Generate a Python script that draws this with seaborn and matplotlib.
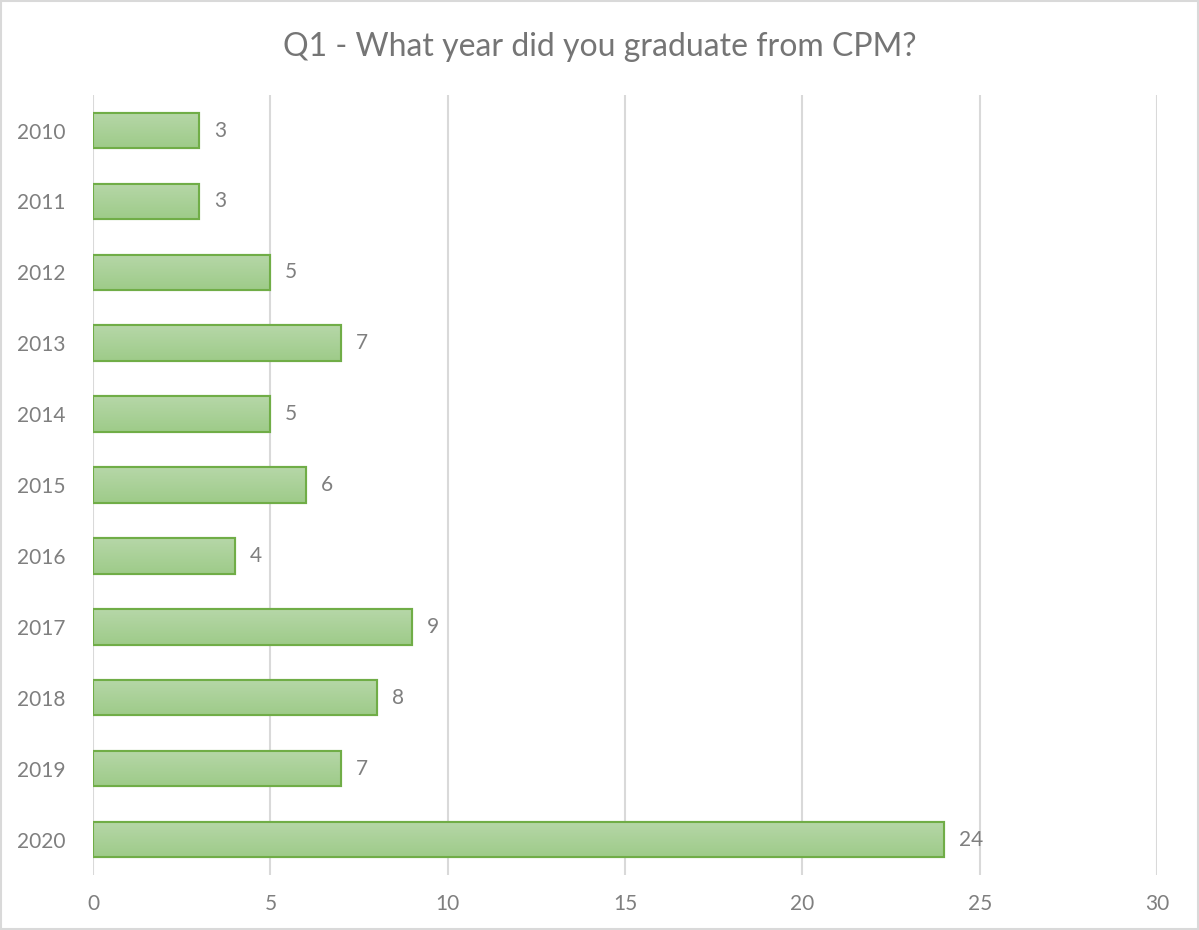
import numpy as np
import pandas as pd
import seaborn as sns
import matplotlib.pyplot as plt
from matplotlib.patches import Rectangle

years = ["2010", "2011", "2012", "2013", "2014", "2015", "2016", "2017", "2018", "2019", "2020"]
counts = [3, 3, 5, 7, 5, 6, 4, 9, 8, 7, 24]
x_ticks = [0, 5, 10, 15, 20, 25, 30]

df = pd.DataFrame({"year": years, "count": counts})

sns.set_style("white")
plt.rcParams["font.family"] = ["Lato", "DejaVu Sans"]

grey = "#7f7f7f"
fig = plt.figure(figsize=(11.99, 9.30), dpi=100)
ax = fig.add_axes([0.0776, 0.0591, 0.8875, 0.8387])

sns.barplot(data=df, x="count", y="year", orient="h", ax=ax, width=0.5,
            color="#a9d097", edgecolor="#70ad47", linewidth=1.5, zorder=3)

# vertical gradient inside each bar, clipped to the bar
grad = np.linspace(0, 1, 64).reshape(-1, 1)
cmap = sns.blend_palette(["#b6d7a8", "#9ecb89"], as_cmap=True)
for p in ax.patches:
    x0, y0 = p.get_x(), p.get_y()
    w, h = p.get_width(), p.get_height()
    im = ax.imshow(grad, cmap=cmap, aspect="auto", extent=(x0, x0 + w, y0 + h, y0),
                   zorder=3.5, interpolation="bicubic")
    im.set_clip_path(p)
    ax.add_patch(Rectangle((x0, y0), w, h, fill=False, edgecolor="#70ad47",
                           linewidth=1.5, zorder=4))

for i, v in enumerate(counts):
    ax.text(v + 0.42, i, str(v), va="center", ha="left", fontsize=15, color=grey, zorder=5)

ax.set_xlim(0, 30)
ax.set_ylim(len(years) - 0.5, -0.5)
ax.set_xticks(x_ticks)
ax.grid(axis="x", color="#d9d9d9", linewidth=1.5, zorder=0)
ax.grid(axis="y", visible=False)
sns.despine(ax=ax, left=True, bottom=True, top=True, right=True)
ax.tick_params(axis="both", length=0, labelsize=15, labelcolor=grey)
ax.tick_params(axis="y", pad=20)
ax.tick_params(axis="x", pad=14)
ax.set_xlabel("")
ax.set_ylabel("")

fig.text(0.5, 0.950, "Q1 - What year did you graduate from CPM?", ha="center", va="center",
         fontsize=23, color="#757575")

fig.patches.append(Rectangle((0.001, 0.001), 0.998, 0.998, transform=fig.transFigure,
                             fill=False, edgecolor="#d9d9d9", linewidth=1.5))

fig.savefig("out.png", dpi=100)
